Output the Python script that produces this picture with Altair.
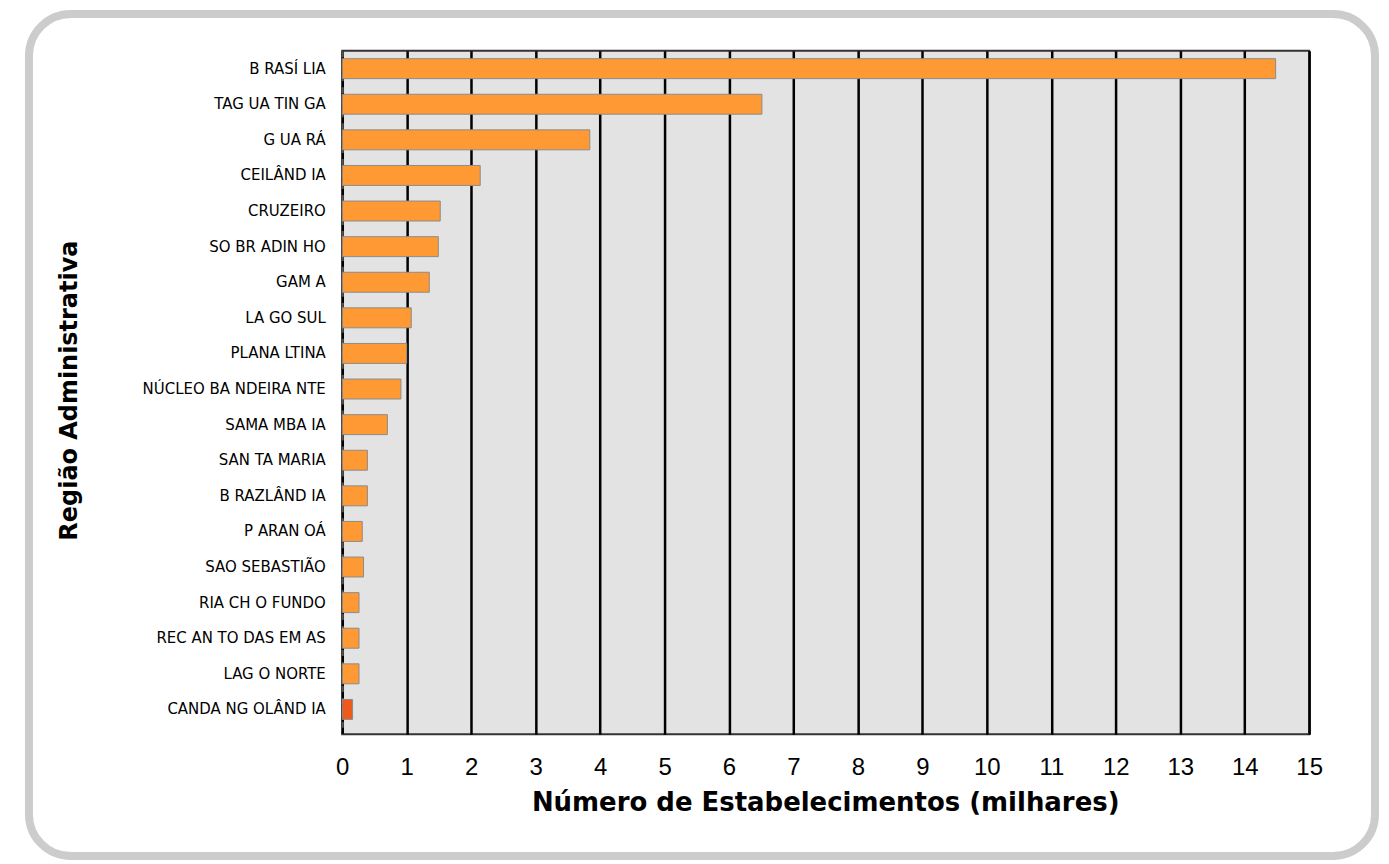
import altair as alt
import pandas as pd

regions = [
    "B RASÍ LIA", "TAG UA TIN GA", "G UA RÁ", "CEILÂND IA", "CRUZEIRO",
    "SO BR ADIN HO", "GAM A", "LA GO SUL", "PLANA LTINA", "NÚCLEO BA NDEIRA NTE",
    "SAMA MBA IA", "SAN TA MARIA", "B RAZLÂND IA", "P ARAN OÁ", "SAO SEBASTIÃO",
    "RIA CH O FUNDO", "REC AN TO DAS EM AS", "LAG O NORTE", "CANDA NG OLÂND IA",
]
values = [14.48, 6.51, 3.84, 2.14, 1.52, 1.49, 1.35, 1.07, 1.00, 0.91,
          0.70, 0.39, 0.39, 0.31, 0.33, 0.26, 0.26, 0.26, 0.16]
x_ticks = list(range(0, 16))

df = pd.DataFrame({"region": regions, "value": values})

W, H = 969, 685
FONT = "Liberation Sans"
WIDE = "DejaVu Sans"

bars = alt.Chart(df).mark_bar(
    stroke="#8c8c8c", strokeWidth=1, height=20
).encode(
    x=alt.X("value:Q",
            scale=alt.Scale(domain=[0, 15], nice=False),
            axis=alt.Axis(values=x_ticks, grid=True, gridColor="#000000",
                          gridWidth=2.5, gridOpacity=1, domain=False,
                          ticks=False, labelFontSize=24, labelFont=FONT,
                          labelColor="#000000", labelPadding=33,
                          labelBaseline="middle", labelFlush=False,
                          title="Número de Estabelecimentos (milhares)",
                          titleFont=WIDE, titleFontSize=26, titleFontWeight="bold",
                          titleColor="#000000", titleX=484, titleY=68,
                          titleBaseline="middle", titleAlign="center")),
    y=alt.Y("region:N", sort=None,
            scale=alt.Scale(paddingInner=0, paddingOuter=0.1, align=0),
            axis=alt.Axis(domain=True, domainColor="#555555", domainDash=[6, 6],
                          domainWidth=2, ticks=False, labelFontSize=15,
                          labelFont=WIDE, labelColor="#000000", labelPadding=17,
                          labelLimit=400,
                          title="Região Administrativa", titleFont=WIDE,
                          titleFontSize=24, titleFontWeight="bold",
                          titleColor="#000000", titleX=-273, titleY=340,
                          titleAngle=-90, titleAlign="center",
                          titleBaseline="middle")),
    color=alt.condition(alt.datum.region == "CANDA NG OLÂND IA",
                        alt.value("#ee5a1c"), alt.value("#ff9933")),
)

frame = alt.Chart(df).mark_rect(
    fill=None, filled=False, stroke="#cccccc", strokeWidth=8, cornerRadius=42,
    clip=False
).encode(
    x=alt.value(-314), x2=alt.value(1035), y=alt.value(-37), y2=alt.value(807)
).transform_filter(alt.datum.region == "GAM A")

chart = alt.layer(frame, bars).properties(
    width=W, height=H,
    autosize=alt.AutoSizeParams(type="none"),
    padding={"left": 335, "top": 42, "right": 72, "bottom": 127},
).configure(
    background="#ffffff"
).configure_view(
    fill="#e3e3e3", stroke="#333333", strokeWidth=2
)

chart.save("out.html", embed_options={"renderer": "svg", "actions": False})
